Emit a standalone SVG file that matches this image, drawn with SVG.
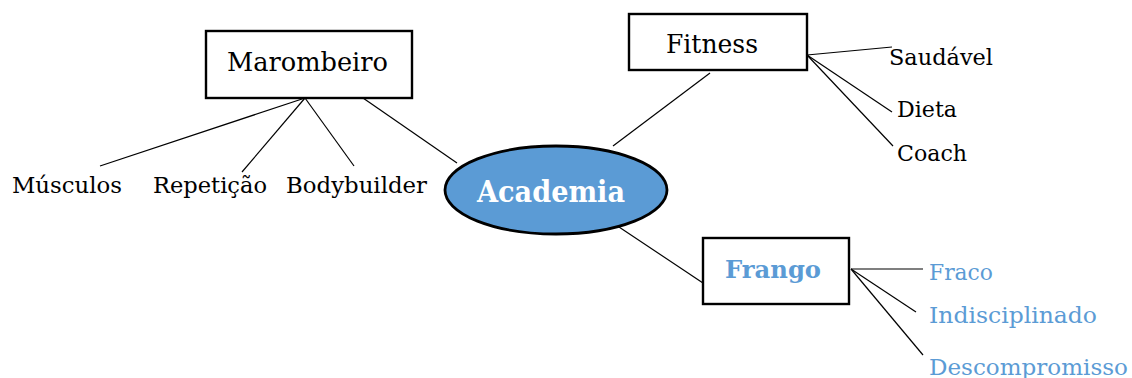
<svg xmlns="http://www.w3.org/2000/svg" width="1132" height="378" viewBox="0 0 1132 378">
<style>
.box{fill:#fff;stroke:#000;stroke-width:2.4}
.ell{fill:#5B9BD5;stroke:#000;stroke-width:2.8}
.ln{stroke:#000;stroke-width:1.2;fill:none}
text{font-family:"DejaVu Serif","Liberation Serif",serif}
.t{font-size:26px;fill:#000}
.leaf{font-size:23px;fill:#000}
.bleaf{font-size:23px;fill:#5B9BD5}
.hb{font-weight:bold}
</style>
<rect width="1132" height="378" fill="#fff"/>
<g id="connectors">
<line class="ln" x1="305" y1="98" x2="100" y2="166"/>
<line class="ln" x1="305" y1="98" x2="242" y2="172"/>
<line class="ln" x1="305" y1="98" x2="354" y2="166"/>
<line class="ln" x1="363" y1="98" x2="457" y2="163"/>
<line class="ln" x1="710" y1="73" x2="613" y2="146"/>
<line class="ln" x1="807" y1="55" x2="892" y2="47"/>
<line class="ln" x1="807" y1="55" x2="892" y2="112"/>
<line class="ln" x1="807" y1="55" x2="893" y2="146"/>
<line class="ln" x1="613" y1="223" x2="703" y2="283"/>
<line class="ln" x1="851" y1="269" x2="923" y2="269"/>
<line class="ln" x1="851" y1="269" x2="916" y2="312"/>
<line class="ln" x1="851" y1="269" x2="923" y2="355"/>
</g>
<g id="marombeiro">
<rect class="box" x="206" y="31" width="206" height="67"/>
<text class="t" x="227" y="71" textLength="161" lengthAdjust="spacingAndGlyphs">Marombeiro</text>
</g>
<g id="musculos"><text class="leaf" x="12" y="193" textLength="110" lengthAdjust="spacingAndGlyphs">Músculos</text></g>
<g id="repeticao"><text class="leaf" x="153" y="193" textLength="114" lengthAdjust="spacingAndGlyphs">Repetição</text></g>
<g id="bodybuilder"><text class="leaf" x="286" y="193" textLength="141" lengthAdjust="spacingAndGlyphs">Bodybuilder</text></g>
<g id="fitness">
<rect class="box" x="629" y="14" width="178" height="56"/>
<text class="t" x="666" y="53" textLength="92" lengthAdjust="spacingAndGlyphs">Fitness</text>
</g>
<g id="saudavel"><text class="leaf" x="889" y="65" textLength="104" lengthAdjust="spacingAndGlyphs">Saudável</text></g>
<g id="dieta"><text class="leaf" x="897" y="117" textLength="60" lengthAdjust="spacingAndGlyphs">Dieta</text></g>
<g id="coach"><text class="leaf" x="897" y="161" textLength="70" lengthAdjust="spacingAndGlyphs">Coach</text></g>
<g id="academia">
<ellipse class="ell" cx="556" cy="190" rx="111" ry="44"/>
<text class="hb" x="477" y="202" font-size="29" fill="#fff" textLength="148" lengthAdjust="spacingAndGlyphs">Academia</text>
</g>
<g id="frango">
<rect class="box" x="703" y="238" width="146" height="66"/>
<text class="hb" x="725" y="278" font-size="24" fill="#5B9BD5" textLength="96" lengthAdjust="spacingAndGlyphs">Frango</text>
</g>
<g id="fraco"><text class="bleaf" x="929" y="280" textLength="64" lengthAdjust="spacingAndGlyphs">Fraco</text></g>
<g id="indisciplinado"><text class="bleaf" x="929" y="323" textLength="168" lengthAdjust="spacingAndGlyphs">Indisciplinado</text></g>
<g id="descompromisso"><text class="bleaf" x="929" y="375" textLength="199" lengthAdjust="spacingAndGlyphs">Descompromisso</text></g>
</svg>
